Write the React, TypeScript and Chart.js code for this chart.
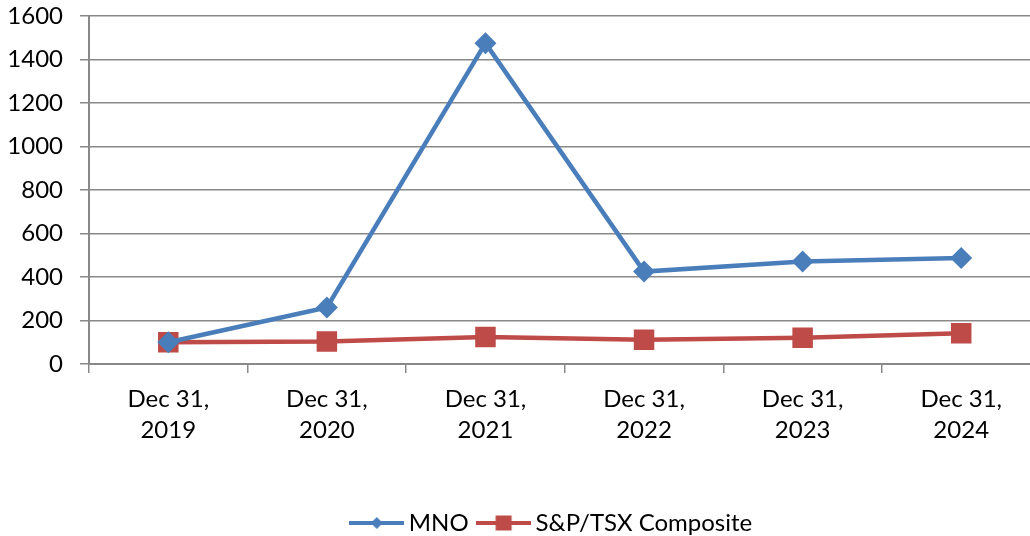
import React, { useEffect, useRef } from "react";
import { Chart, registerables } from "chart.js";

Chart.register(...registerables);

const categories: string[][] = [
  ["Dec 31,", "2019"],
  ["Dec 31,", "2020"],
  ["Dec 31,", "2021"],
  ["Dec 31,", "2022"],
  ["Dec 31,", "2023"],
  ["Dec 31,", "2024"],
];
const mnoValues = [100, 260, 1475, 425, 471, 487];
const tsxValues = [100, 103, 124, 111, 121, 141];
const seriesNames = ["MNO", "S&P/TSX Composite"];
const yMin = 0;
const yMax = 1600;
const yStep = 200;

const BLUE = "#4A7EBB";
const RED = "#BE4B48";
const GRID = "#898989";
const FONT = "Lato";
const FS = 24;
const LEGEND_SHIFT = 27;

function legendIcon(color: string, shape: "diamond" | "square"): HTMLCanvasElement {
  const c = document.createElement("canvas");
  c.width = 55;
  c.height = 20;
  const ctx = c.getContext("2d")!;
  ctx.strokeStyle = color;
  ctx.lineWidth = 4;
  ctx.beginPath();
  ctx.moveTo(0, 10);
  ctx.lineTo(55, 10);
  ctx.stroke();
  ctx.fillStyle = color;
  ctx.beginPath();
  if (shape === "diamond") {
    ctx.moveTo(27.5, 4);
    ctx.lineTo(33.5, 10);
    ctx.lineTo(27.5, 16);
    ctx.lineTo(21.5, 10);
    ctx.closePath();
  } else {
    ctx.rect(19.5, 2.5, 16, 15);
  }
  ctx.fill();
  return c;
}

const legendShiftPlugin = {
  id: "legendShift",
  afterLayout(chart: any) {
    const lg = chart.legend;
    if (lg) {
      lg.left += LEGEND_SHIFT;
      lg.right += LEGEND_SHIFT;
    }
  },
};

export default function App() {
  const ref = useRef<HTMLCanvasElement | null>(null);
  useEffect(() => {
    if (!ref.current) return;
    const icons = [legendIcon(BLUE, "diamond"), legendIcon(RED, "square")];
    const chart = new Chart(ref.current, {
      type: "line",
      data: {
        labels: categories,
        datasets: [
          {
            label: seriesNames[0],
            data: mnoValues,
            borderColor: BLUE,
            backgroundColor: BLUE,
            borderWidth: 4.5,
            pointStyle: "rectRot",
            pointRadius: 11,
            pointBorderWidth: 0,
            tension: 0,
          },
          {
            label: seriesNames[1],
            data: tsxValues,
            borderColor: RED,
            backgroundColor: RED,
            borderWidth: 4.5,
            pointStyle: "rect",
            pointRadius: 14.5,
            pointBorderWidth: 0,
            tension: 0,
          },
        ],
      },
      plugins: [legendShiftPlugin],
      options: {
        animation: false,
        responsive: true,
        maintainAspectRatio: false,
        layout: { padding: { top: 16, left: 0, right: 0, bottom: 0 } },
        font: { family: FONT, size: FS },
        scales: {
          x: {
            offset: true,
            grid: {
              offset: true,
              drawOnChartArea: false,
              drawTicks: true,
              tickLength: 9,
              color: GRID,
              lineWidth: 1.5,
            },
            border: { display: true, color: GRID, width: 2 },
            ticks: {
              color: "#000",
              font: { family: FONT, size: FS, lineHeight: 1.32 },
              padding: 10,
              maxRotation: 0,
              autoSkip: false,
            },
            afterFit: (s: any) => {
              s.height = 132;
              s.paddingLeft = 0;
              s.paddingRight = 0;
            },
          },
          y: {
            min: yMin,
            max: yMax,
            ticks: {
              stepSize: yStep,
              color: "#000",
              font: { family: FONT, size: FS },
              padding: 17,
              callback: (v: any) => String(v),
            },
            grid: {
              color: GRID,
              lineWidth: 1.5,
              drawTicks: true,
              tickLength: 9,
            },
            border: { display: true, color: GRID, width: 2 },
            afterFit: (s: any) => {
              s.width = 89;
              s.paddingTop = 0;
              s.paddingBottom = 0;
            },
          },
        },
        plugins: {
          tooltip: { enabled: false },
          legend: {
            position: "bottom",
            labels: {
              color: "#000",
              font: { family: FONT, size: FS },
              usePointStyle: true,
              pointStyleWidth: 40,
              padding: 15,
              generateLabels: (ch: any) =>
                ch.data.datasets.map((d: any, i: number) => ({
                  text: d.label,
                  pointStyle: icons[i],
                  fillStyle: d.borderColor,
                  strokeStyle: d.borderColor,
                  lineWidth: 0,
                  hidden: false,
                  datasetIndex: i,
                  fontColor: "#000",
                })),
            },
          },
        },
      },
    } as any);
    return () => chart.destroy();
  }, []);
  return (
    <div
      style={{
        position: "fixed",
        left: 0,
        top: 0,
        width: 1030,
        height: 536,
        overflow: "hidden",
        background: "#fff",
      }}
    >
      <div style={{ position: "absolute", left: 0, top: 0, width: 1055, height: 545 }}>
        <canvas ref={ref} />
      </div>
    </div>
  );
}
